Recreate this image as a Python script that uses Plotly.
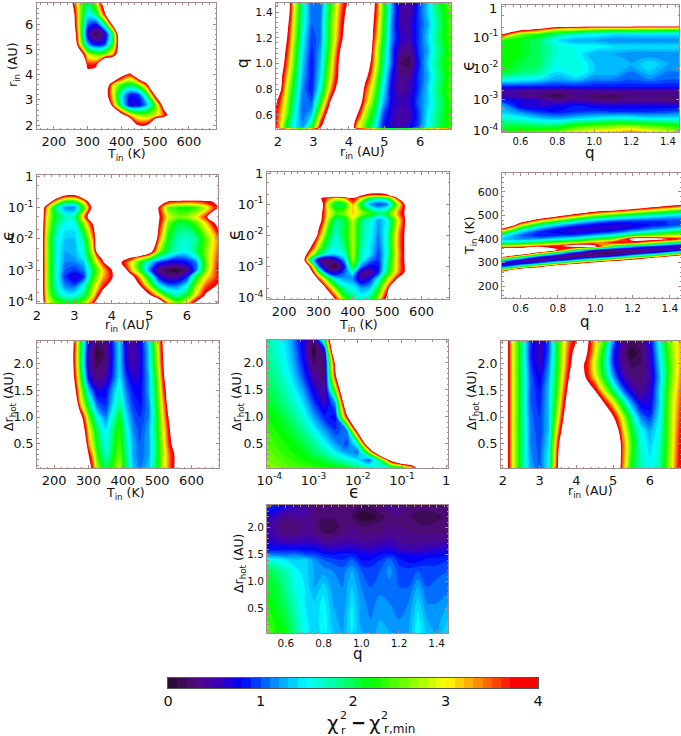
import plotly.graph_objects as go

W, H = 681, 736
ZTOP = 4.1

CMAP_VALUES = [0, 0.1, 0.3, 0.55, 0.8, 1.0, 1.2, 1.5, 1.8, 2.2, 2.6, 3.0, 3.3, 3.6, 3.75, 4.0, 4.04, 4.1]
CMAP_COLORS = ["#220a24", "#350a48", "#520a80", "#3a00b8", "#0000ff", "#0050ff", "#00a0ff", "#00ffff",
               "#00ffa0", "#00ff00", "#80ff00", "#ffff00", "#ffa000", "#ff3000", "#ff0000", "#ff0000",
               "#ffffff", "#ffffff"]
CBAR_LEVELS = [0.05, 0.15, 0.25, 0.35, 0.45, 0.55, 0.65, 0.75, 0.85, 0.95, 1.05, 1.15, 1.25, 1.35, 1.45, 1.55,
               1.65, 1.75, 1.85, 1.95, 2.05, 2.15, 2.25, 2.35, 2.45, 2.55, 2.65, 2.75, 2.85, 2.95, 3.05, 3.15,
               3.25, 3.35, 3.45, 3.55, 3.65, 3.75, 3.85, 3.95]

# ---- panel 1: Tin vs rin
T1 = [225, 250, 275, 300, 325, 350, 375, 400, 425, 450, 475, 500, 525, 550, 575]
R1 = [2.0, 2.4, 2.8, 3.2, 3.6, 4.0, 4.4, 4.8, 5.2, 5.6, 6.0, 6.4, 6.83]
Z1 = [
    [6, 6, 6, 6, 6, 6, 6, 6, 6, 3.8, 3.8, 6, 6, 6, 6],
    [6, 6, 6, 6, 6, 6, 6, 4.3, 3.1, 2.6, 2.5, 2.7, 3.4, 4.5, 6],
    [6, 6, 6, 6, 6, 6, 3.4, 1.7, 0.6, 0.7, 1.2, 2.3, 4.3, 6, 6],
    [6, 6, 6, 6, 6, 4.5, 2.9, 1.5, 0.8, 0.9, 1.9, 4, 6, 6, 6],
    [6, 6, 6, 6, 6, 5, 3, 2.3, 2, 2.4, 3.6, 6, 6, 6, 6],
    [6, 6, 6, 4.3, 4.4, 6, 6, 4.3, 3.6, 5, 6, 6, 6, 6, 6],
    [6, 6, 6, 3.6, 3.7, 6, 6, 6, 6, 6, 6, 6, 6, 6, 6],
    [6, 6, 4.8, 2.8, 2.4, 2.5, 3.2, 5, 6, 6, 6, 6, 6, 6, 6],
    [6, 6, 3.1, 1.2, 0.7, 0.9, 2.2, 5, 6, 6, 6, 6, 6, 6, 6],
    [6, 5.5, 2.8, 0.6, 0.1, 0.5, 2.0, 5.5, 6, 6, 6, 6, 6, 6, 6],
    [6, 5, 2.7, 1.0, 0.8, 1.8, 4.2, 6, 6, 6, 6, 6, 6, 6, 6],
    [6, 4.8, 2.7, 1.5, 1.9, 3.7, 6, 6, 6, 6, 6, 6, 6, 6, 6],
    [6, 4.2, 2.6, 1.9, 2.6, 4.5, 6, 6, 6, 6, 6, 6, 6, 6, 6],
]

# ---- panel 2: rin vs q
R2 = [1.95, 2.2, 2.45, 2.7, 2.95, 3.2, 3.45, 3.7, 3.95, 4.2, 4.45, 4.7, 4.95, 5.2, 5.45, 5.7, 5.95, 6.2, 6.45, 6.87]
Q2 = [0.5, 0.6, 0.7, 0.8, 0.9, 1.0, 1.1, 1.2, 1.3, 1.4, 1.47]
Z2 = [
    [3.9, 2.3, 1.5, 1.2, 2.1, 3.9, 6, 6, 6, 3.2, 2.4, 1.7, 0.9, 0.6, 0.5, 0.7, 1.0, 1.5, 1.9, 2.3],
    [3.7, 2.7, 1.6, 1.0, 1.3, 2.9, 4.5, 6, 6, 4.1, 2.7, 2.0, 1.0, 0.6, 0.4, 0.5, 0.9, 1.4, 1.8, 2.3],
    [4.0, 2.9, 1.8, 1.0, 1.0, 2.1, 3.7, 6, 6, 5, 3.3, 2.3, 1.3, 0.7, 0.5, 0.6, 1.0, 1.3, 1.7, 2.3],
    [5, 3.1, 2.0, 1.1, 0.8, 1.6, 3.0, 4.3, 6, 6, 3.6, 2.6, 1.5, 0.7, 0.35, 0.5, 0.9, 1.3, 1.8, 2.4],
    [5, 3.4, 2.2, 1.2, 0.8, 1.4, 2.7, 3.9, 6, 6, 4.3, 2.9, 1.7, 0.8, 0.3, 0.4, 0.9, 1.2, 1.7, 2.3],
    [6, 3.7, 2.4, 1.3, 0.8, 1.3, 2.5, 3.8, 6, 6, 5, 3.2, 1.9, 1.0, 0.2, 0.1, 0.8, 1.3, 1.8, 2.4],
    [6, 4, 2.5, 1.4, 0.85, 1.2, 2.3, 3.6, 5, 6, 6, 3.3, 2.0, 1.0, 0.4, 0.3, 0.9, 1.2, 1.7, 2.3],
    [6, 4.3, 2.7, 1.5, 0.9, 1.1, 2.2, 3.3, 4.5, 6, 6, 3.6, 2.2, 1.1, 0.6, 0.5, 0.9, 1.3, 1.8, 2.4],
    [6, 4.6, 2.8, 1.6, 1, 1.1, 2.2, 3.2, 4.3, 6, 6, 3.8, 2.3, 1.1, 0.5, 0.5, 0.9, 1.2, 1.7, 2.4],
    [6, 5, 2.9, 1.7, 1, 1.05, 2.1, 3.1, 4.1, 6, 6, 4, 2.4, 1.2, 0.5, 0.4, 0.9, 1.3, 1.8, 2.4],
    [6, 5, 3, 1.7, 1, 1, 2.0, 3, 3.9, 6, 6, 4.1, 2.4, 1.2, 0.5, 0.4, 0.9, 1.3, 1.9, 2.5],
]

# ---- panel 3: q vs log eps
Q3 = [0.5, 0.6, 0.7, 0.8, 0.9, 1.0, 1.1, 1.2, 1.3, 1.4, 1.46]
E3 = [-4.05, -3.8, -3.6, -3.4, -3.2, -3.05, -2.9, -2.72, -2.6, -2.35, -2.1, -1.85, -1.55, -1.3, -1.1, -0.9, -0.75, -0.65, -0.55]
Z3 = [
    [2.2, 2.3, 2.4, 2.5, 2.8, 3.0, 3.1, 3.3, 3.0, 2.8, 2.6],
    [1.9, 1.9, 1.8, 1.8, 2.1, 2.2, 2.3, 2.3, 2.2, 2.1, 2.0],
    [1.6, 1.5, 1.3, 1.2, 1.3, 1.4, 1.5, 1.5, 1.4, 1.4, 1.4],
    [1.3, 1.1, 0.9, 0.8, 0.9, 0.95, 0.9, 0.9, 0.9, 0.95, 1.0],
    [1.2, 0.7, 0.6, 0.7, 0.8, 0.7, 0.7, 0.7, 0.7, 0.7, 0.7],
    [0.9, 0.7, 0.6, 0.4, 0.5, 0.4, 0.3, 0.35, 0.35, 0.3, 0.3],
    [0.5, 0.4, 0.3, 0.1, 0.3, 0.2, 0.15, 0.3, 0.3, 0.3, 0.3],
    [0.5, 0.4, 0.35, 0.3, 0.35, 0.4, 0.4, 0.4, 0.4, 0.4, 0.4],
    [0.8, 0.8, 0.8, 0.8, 0.8, 0.8, 0.8, 0.8, 0.8, 0.8, 0.8],
    [1.6, 1.5, 1.4, 1.2, 1.3, 1.1, 1.1, 1.0, 1.1, 1.0, 1.0],
    [2.1, 1.9, 1.8, 1.4, 1.6, 1.3, 1.3, 1.1, 1.3, 1.1, 1.1],
    [2.2, 2.0, 1.9, 1.5, 1.6, 1.3, 1.3, 1.2, 1.4, 1.2, 1.2],
    [2.2, 2.1, 1.9, 1.6, 1.5, 1.2, 1.2, 1.1, 1.1, 1.1, 1.1],
    [2.2, 2.1, 1.9, 1.6, 1.5, 1.5, 1.4, 1.4, 1.4, 1.4, 1.4],
    [2.2, 2.1, 1.9, 1.4, 1.2, 1.2, 1.1, 1.1, 1.1, 1.1, 1.1],
    [3.9, 2.5, 2.2, 1.9, 1.6, 1.5, 1.4, 1.4, 1.4, 1.4, 1.4],
    [6, 4.2, 3.6, 2.8, 2.7, 2.5, 2.4, 2.4, 2.4, 2.3, 2.3],
    [6, 6, 5, 4.2, 4, 3.9, 3.9, 3.9, 3.8, 3.8, 3.8],
    [6, 6, 6, 6, 6, 6, 6, 6, 6, 6, 6],
]

# ---- panel 4: rin vs log eps
R4 = [2, 2.25, 2.5, 2.75, 3, 3.25, 3.5, 3.75, 4, 4.25, 4.5, 4.75, 5, 5.25, 5.5, 5.75, 6, 6.25, 6.5, 6.83]
E4 = [-4.05, -3.8, -3.5, -3.2, -3.0, -2.75, -2.6, -2.4, -2.0, -1.5, -1.3, -1.0, -0.8, -0.6, -0.45]
Z4 = [
    [6, 3.0, 2.4, 2.2, 2.2, 2.6, 3.6, 6, 6, 6, 6, 6, 6, 5, 3.2, 2.5, 3, 4.1, 6, 6],
    [6, 2.8, 1.9, 1.5, 1.5, 1.9, 2.9, 4.4, 6, 6, 6, 6, 4.0, 2.9, 2.0, 1.7, 2.1, 3, 4, 6],
    [6, 2.7, 1.7, 1.1, 1, 1.5, 2.6, 3.5, 4.4, 6, 6, 3.9, 2.6, 1.5, 1.1, 1.1, 1.5, 2.6, 3.4, 4.0],
    [6, 2.7, 1.6, 0.9, 0.6, 0.9, 2.2, 3.1, 3.7, 6, 4.3, 3, 1.8, 0.7, 0.35, 0.4, 0.8, 2, 2.9, 3.6],
    [6, 2.7, 1.6, 1.0, 0.9, 1.1, 2.0, 3, 3.9, 5, 3.2, 2.2, 1.1, 0.3, 0.1, 0.02, 0.3, 1.1, 2.5, 3.7],
    [6, 2.7, 1.6, 1.1, 1.1, 1.3, 2.4, 3.6, 6, 3.9, 3.0, 2.2, 1.4, 0.9, 0.7, 0.7, 0.8, 1.1, 2.4, 3.6],
    [6, 2.7, 1.6, 1.15, 1.2, 1.5, 2.6, 4.2, 6, 6, 3.9, 3.1, 2.5, 1.7, 1.3, 1.0, 1.1, 1.5, 2.5, 3.5],
    [6, 2.7, 1.6, 1.2, 1.25, 1.6, 2.9, 6, 6, 6, 6, 6, 4.5, 2.6, 1.9, 1.6, 1.5, 1.9, 2.5, 3.4],
    [6, 2.7, 1.6, 1.3, 1.3, 1.8, 3.3, 6, 6, 6, 6, 6, 6, 3.4, 2.1, 1.7, 1.6, 1.8, 2.4, 3.3],
    [6, 2.9, 1.9, 1.5, 1.5, 2.6, 4, 6, 6, 6, 6, 6, 6, 3.9, 2.5, 2.0, 2.0, 2.4, 3.0, 4.2],
    [6, 3.0, 2.0, 1.7, 1.7, 3.2, 5, 6, 6, 6, 6, 6, 6, 4, 2.8, 2.5, 2.6, 2.9, 3.6, 6],
    [6, 3.3, 1.8, 1.1, 1.1, 2.3, 4.3, 6, 6, 6, 6, 6, 6, 3.8, 2.4, 2.2, 2.1, 2.3, 2.7, 3.9],
    [6, 5, 3.1, 2.2, 2.2, 3.1, 5, 6, 6, 6, 6, 6, 6, 5, 3.9, 3.7, 3.6, 3.6, 3.8, 4],
    [6, 6, 5, 4, 3.9, 5, 6, 6, 6, 6, 6, 6, 6, 6, 6, 6, 6, 6, 6, 6],
    [6, 6, 6, 6, 6, 6, 6, 6, 6, 6, 6, 6, 6, 6, 6, 6, 6, 6, 6, 6],
]

# ---- panel 5: Tin vs log eps
T5 = [250, 275, 300, 325, 350, 375, 400, 425, 450, 475, 500, 525, 550, 575]
E5 = [-4.05, -3.7, -3.4, -3.2, -3.0, -2.8, -2.6, -2.4, -2.0, -1.5, -1.3, -1.0, -0.8, -0.7, -0.6, -0.5]
Z5 = [
    [6, 6, 6, 6, 3.7, 2.4, 1.9, 1.6, 1.9, 2.7, 4.2, 6, 6, 6],
    [6, 6, 6, 3.6, 2.4, 1.7, 1.5, 1.2, 1.3, 2.1, 3.4, 6, 6, 6],
    [6, 6, 3.6, 2.3, 1.4, 1.2, 1.1, 0.5, 0.8, 1.5, 2.6, 3.6, 6, 6],
    [6, 4.6, 2.3, 0.9, 0.6, 1.0, 1.5, 0.4, 0.35, 0.9, 2, 3, 3.9, 6],
    [6, 3.7, 1.1, 0.25, 0.02, 0.8, 2.2, 1.1, 0.7, 0.8, 1.8, 2.9, 3.8, 6],
    [5, 1.9, 0.5, 0.2, 0.5, 1.2, 2.6, 1.5, 1.1, 0.9, 1.7, 2.9, 3.9, 6],
    [5, 3.2, 2.0, 1.5, 1.4, 1.6, 2.7, 1.6, 1.4, 0.9, 1.6, 2.8, 3.9, 6],
    [6, 4.0, 2.6, 1.8, 1.5, 1.8, 2.7, 1.7, 1.4, 1.0, 1.6, 2.9, 3.9, 6],
    [6, 6, 3.5, 2.2, 1.6, 2.0, 2.7, 1.8, 1.5, 1.1, 1.6, 2.9, 3.9, 6],
    [6, 6, 4.5, 2.8, 1.8, 2.0, 2.8, 1.9, 1.6, 1.2, 1.5, 2.6, 3.7, 6],
    [6, 6, 4.5, 3.0, 2.4, 2.5, 3.1, 2.6, 2.3, 1.9, 2.1, 3.0, 3.9, 6],
    [6, 6, 5, 2.9, 1.9, 2.0, 3.2, 2.0, 1.2, 0.9, 1.1, 2.3, 3.8, 6],
    [6, 6, 4.1, 3.5, 3.0, 3.2, 3.9, 3.0, 2.0, 1.8, 2.0, 3.4, 6, 6],
    [6, 6, 6, 5, 5, 5, 6, 4, 3.5, 3.5, 3.7, 5, 6, 6],
    [6, 6, 6, 6, 6, 6, 6, 6, 4.3, 4.2, 4.5, 6, 6, 6],
    [6, 6, 6, 6, 6, 6, 6, 6, 6, 6, 6, 6, 6, 6],
]

# ---- panel 6: q vs Tin
Q6 = [0.5, 0.6, 0.7, 0.8, 0.9, 1.0, 1.1, 1.2, 1.3, 1.46]
T6 = [250, 265, 280, 295, 310, 325, 340, 355, 370, 385, 400, 415, 430, 445, 460, 475, 490, 505, 520, 535, 550, 565]
Z6 = [
    [6, 6, 6, 6, 6, 6, 6, 6, 6, 6],
    [3.25, 6, 6, 6, 6, 6, 6, 6, 6, 6],
    [1.04, 2.3, 3.9, 6, 6, 6, 6, 6, 6, 6],
    [0.6, 0.64, 1.3, 2.4, 3.7, 5, 6, 6, 6, 6],
    [1.5, 0.57, 0.3, 0.62, 1.3, 2.1, 3.1, 4.2, 6, 6],
    [3.9, 2.07, 0.85, 0.37, 0.25, 0.5, 1.0, 1.8, 2.6, 5],
    [6, 5.1, 2.9, 1.47, 0.53, 0.12, 0.12, 0.4, 0.85, 2.1],
    [4.8, 4.8, 6, 3.9, 2.0, 0.94, 0.5, 0.3, 0.3, 0.55],
    [2.76, 3.0, 3.4, 3.7, 4.6, 4.1, 2.1, 1.4, 1.0, 0.54],
    [1.67, 1.78, 2.07, 2.4, 2.7, 3.2, 3.8, 3.6, 2.9, 1.6],
    [1.3, 1.13, 1.2, 1.44, 1.67, 2.1, 2.5, 4.2, 4.3, 3.6],
    [1.6, 1.02, 0.83, 0.88, 0.98, 1.27, 1.56, 2.1, 2.5, 2.7],
    [2.45, 1.32, 0.87, 0.7, 0.64, 0.76, 0.94, 1.3, 1.6, 2.2],
    [3.9, 1.98, 1.25, 0.86, 0.64, 0.6, 0.63, 0.83, 1.04, 1.4],
    [6, 3.0, 1.9, 1.35, 0.96, 0.75, 0.64, 0.7, 0.8, 0.98],
    [6, 4.4, 2.9, 2.14, 1.56, 1.18, 0.96, 0.88, 0.89, 0.91],
    [6, 6, 4.3, 3.3, 2.5, 1.9, 1.56, 1.38, 1.25, 1.1],
    [6, 6, 6, 4.7, 3.7, 2.9, 2.5, 2.14, 1.85, 1.5],
    [6, 6, 6, 6, 5.3, 4.2, 3.7, 3.2, 2.73, 2.2],
    [6, 6, 6, 6, 6, 6, 6, 4.6, 3.9, 3.1],
    [6, 6, 6, 6, 6, 6, 6, 6, 6, 4.2],
    [6, 6, 6, 6, 6, 6, 6, 6, 6, 6],
]

# ---- panel 7: Tin vs dr
T7 = [250, 275, 300, 325, 350, 390, 410, 430, 450, 475, 500, 525, 550, 575]
D7 = [0.05, 0.3, 0.5, 0.75, 1, 1.25, 1.5, 1.75, 2, 2.2, 2.42]
Z7 = [
    [6, 6, 4.5, 2.6, 1.9, 2.7, 1.9, 1.3, 1.1, 1.3, 2.1, 3, 3.9, 6],
    [6, 6, 3.9, 2.3, 1.6, 2.5, 1.8, 1.2, 1.0, 1.2, 2.0, 3.0, 3.9, 6],
    [6, 6, 3.3, 2.1, 1.5, 2.4, 1.7, 1.2, 1.0, 1.2, 2.0, 3.1, 4.3, 6],
    [6, 5.0, 3.0, 1.9, 1.4, 2.3, 1.6, 1.1, 0.95, 1.2, 2.1, 3.2, 4.6, 6],
    [6, 4.4, 2.5, 1.5, 1.1, 2.1, 1.4, 1.0, 0.9, 1.1, 2.1, 3.4, 5, 6],
    [6, 3.2, 1.9, 1.0, 0.85, 1.8, 1.2, 0.9, 0.8, 1.1, 2.2, 3.6, 6, 6],
    [5, 2.8, 1.3, 0.65, 0.75, 1.6, 1.05, 0.8, 0.75, 1.2, 2.3, 3.9, 6, 6],
    [4.6, 2.4, 0.7, 0.3, 0.45, 1.4, 0.9, 0.6, 0.7, 1.2, 2.4, 4.2, 6, 6],
    [4.4, 2.2, 0.5, 0.15, 0.3, 1.4, 0.7, 0.45, 0.65, 1.3, 2.6, 4.4, 6, 6],
    [4.4, 2.2, 0.55, 0.03, 0.25, 1.4, 0.65, 0.4, 0.65, 1.3, 2.7, 4.5, 6, 6],
    [4.5, 2.3, 0.7, 0.25, 0.35, 1.4, 0.6, 0.4, 0.7, 1.4, 2.8, 4.6, 6, 6],
]

# ---- panel 8: log eps vs dr
E8 = [-4.05, -3.75, -3.5, -3.25, -3, -2.75, -2.5, -2.25, -2, -1.75, -1.5, -1.25, -1, -0.75, -0.5]
D8 = [0.05, 0.2, 0.35, 0.5, 0.75, 1, 1.25, 1.5, 1.75, 2, 2.2, 2.42]
Z8 = [
    [2.6, 2.5, 2.4, 2.35, 2.3, 2.2, 2.15, 2.1, 1.9, 1.7, 1.5, 1.5, 1.6, 3.0, 6],
    [2.5, 2.4, 2.3, 2.2, 2.1, 2.0, 1.8, 1.6, 1.4, 1.0, 1.9, 4.2, 6, 6, 6],
    [2.45, 2.3, 2.2, 2.1, 1.9, 1.7, 1.4, 1.15, 1.05, 2.6, 5.5, 6, 6, 6, 6],
    [2.4, 2.25, 2.15, 2.0, 1.8, 1.5, 1.15, 0.95, 1.6, 5, 6, 6, 6, 6, 6],
    [2.3, 2.15, 2.0, 1.8, 1.5, 1.15, 0.9, 1.1, 4.3, 6, 6, 6, 6, 6, 6],
    [2.2, 2.05, 1.85, 1.6, 1.2, 0.85, 0.75, 3.7, 6, 6, 6, 6, 6, 6, 6],
    [2.1, 1.9, 1.7, 1.4, 0.95, 0.55, 1.2, 5, 6, 6, 6, 6, 6, 6, 6],
    [2.0, 1.8, 1.55, 1.2, 0.7, 0.35, 2.6, 6, 6, 6, 6, 6, 6, 6, 6],
    [1.9, 1.7, 1.4, 1.0, 0.45, 0.25, 3.8, 6, 6, 6, 6, 6, 6, 6, 6],
    [1.85, 1.6, 1.3, 0.85, 0.2, 0.3, 4.2, 6, 6, 6, 6, 6, 6, 6, 6],
    [1.8, 1.55, 1.25, 0.75, 0.05, 0.5, 5.5, 6, 6, 6, 6, 6, 6, 6, 6],
    [1.75, 1.5, 1.2, 0.7, 0.2, 1.9, 6, 6, 6, 6, 6, 6, 6, 6, 6],
]

# ---- panel 9: rin vs dr
R9 = [2, 2.25, 2.5, 2.75, 3, 3.25, 3.5, 3.75, 4, 4.25, 4.5, 4.75, 5, 5.25, 5.5, 5.75, 6, 6.25, 6.5, 6.85]
D9 = [0.05, 0.5, 0.75, 1, 1.25, 1.5, 1.75, 2, 2.2, 2.42]
Z9 = [
    [5, 3.0, 1.9, 1.2, 1.0, 1.5, 3.9, 6, 6, 6, 6, 6, 6, 3.4, 2.1, 1.7, 1.5, 1.7, 2.5, 3.9],
    [5, 3, 1.9, 1.1, 0.95, 1.4, 3.6, 6, 6, 6, 6, 6, 6, 3.5, 2.3, 1.6, 1.3, 1.6, 2.4, 3.8],
    [5, 3, 1.9, 1.1, 0.9, 1.3, 3.2, 5, 6, 6, 6, 6, 5, 3.2, 2.1, 1.5, 1.2, 1.5, 2.4, 3.7],
    [5, 3, 1.9, 1.05, 0.9, 1.3, 2.8, 4.6, 6, 6, 6, 6, 4, 2.8, 1.8, 1.1, 0.9, 1.4, 2.4, 3.6],
    [5, 3, 1.9, 1.0, 0.85, 1.3, 2.6, 4.2, 6, 6, 6, 4, 3, 2, 1.2, 0.7, 0.7, 1.3, 2.4, 3.5],
    [5, 3, 1.9, 1.0, 0.8, 1.3, 2.4, 3.9, 6, 6, 3.9, 2.8, 1.9, 1.1, 0.6, 0.35, 0.6, 1.3, 2.3, 3.4],
    [5, 3, 1.9, 1, 0.7, 1.2, 2.3, 3.6, 5, 3.9, 3.0, 2.1, 1.2, 0.6, 0.3, 0.25, 0.5, 1.2, 2.2, 3.3],
    [5, 3, 1.9, 0.9, 0.55, 1.1, 2.2, 3.4, 4.5, 3.8, 2.8, 1.9, 0.9, 0.4, 0.15, 0.2, 0.55, 1.3, 2.2, 3.2],
    [5, 3, 1.9, 0.85, 0.5, 1.0, 2.2, 3.3, 4.3, 4.1, 3.0, 2.0, 0.9, 0.35, 0.02, 0.15, 0.6, 1.4, 2.3, 3.2],
    [5, 3, 1.9, 0.9, 0.5, 1.0, 2.2, 3.2, 3.9, 4.3, 3.1, 2.3, 1.1, 0.45, 0.2, 0.3, 0.7, 1.5, 2.4, 3.2],
]

# ---- panel 10: q vs dr
Q10 = [0.5, 0.55, 0.6, 0.65, 0.7, 0.75, 0.8, 0.85, 0.9, 0.95, 1, 1.05, 1.1, 1.15, 1.2, 1.25, 1.3, 1.35, 1.4, 1.46]
D10 = [0.05, 0.3, 0.6, 0.9, 1.2, 1.4, 1.5, 1.6, 1.75, 1.9, 2.05, 2.2, 2.42]
Z10 = [
    [2.4, 2.2, 2.1, 1.8, 1.5, 1.3, 1.45, 1.3, 1.2, 1.4, 1.2, 1.15, 1.25, 1.2, 1.1, 1.2, 1.5, 1.25, 1.2, 1.4],
    [2.3, 2.15, 2.0, 1.75, 1.45, 1.3, 1.5, 1.25, 1.15, 1.45, 1.15, 1.1, 1.2, 1.15, 1.1, 1.15, 1.45, 1.2, 1.15, 1.3],
    [2.2, 2.05, 1.9, 1.65, 1.4, 1.3, 1.45, 1.2, 1.1, 1.4, 1.15, 1.05, 1.15, 1.1, 1.05, 1.1, 1.35, 1.1, 1.1, 1.2],
    [2.1, 2.0, 1.8, 1.55, 1.4, 1.2, 1.35, 1.15, 1.1, 1.3, 1.1, 1, 1.05, 1.05, 1, 1, 1.2, 1, 1.05, 1.05],
    [2.0, 1.85, 1.7, 1.45, 1.35, 1.2, 1.15, 1.1, 1.05, 1.2, 1.0, 0.95, 1.0, 1.15, 0.95, 0.95, 1.0, 0.95, 0.95, 1.0],
    [1.6, 1.5, 1.4, 1.3, 1.35, 1.15, 1.0, 0.95, 0.9, 1.0, 0.8, 0.8, 0.9, 1.05, 0.85, 0.75, 0.75, 0.85, 0.85, 0.9],
    [1.1, 1.1, 1.05, 1.1, 1.0, 0.95, 0.85, 0.8, 0.85, 0.85, 0.75, 0.7, 0.8, 0.85, 0.75, 0.7, 0.7, 0.7, 0.75, 0.8],
    [0.8, 0.8, 0.8, 0.8, 0.75, 0.75, 0.65, 0.6, 0.65, 0.65, 0.6, 0.55, 0.65, 0.65, 0.55, 0.5, 0.5, 0.55, 0.6, 0.65],
    [0.65, 0.55, 0.5, 0.5, 0.55, 0.5, 0.4, 0.4, 0.45, 0.45, 0.4, 0.4, 0.45, 0.5, 0.4, 0.35, 0.35, 0.4, 0.4, 0.45],
    [0.55, 0.4, 0.3, 0.3, 0.4, 0.35, 0.2, 0.2, 0.3, 0.35, 0.3, 0.3, 0.3, 0.35, 0.35, 0.3, 0.3, 0.3, 0.3, 0.3],
    [0.55, 0.35, 0.2, 0.2, 0.35, 0.3, 0.1, 0.1, 0.25, 0.3, 0.2, 0.2, 0.25, 0.3, 0.3, 0.25, 0.25, 0.2, 0.25, 0.25],
    [0.7, 0.5, 0.35, 0.4, 0.4, 0.3, 0.25, 0.25, 0.3, 0.2, 0.02, 0.03, 0.15, 0.25, 0.3, 0.25, 0.1, 0.1, 0.15, 0.25],
    [1.0, 0.85, 0.7, 0.55, 0.45, 0.3, 0.3, 0.3, 0.3, 0.3, 0.2, 0.25, 0.3, 0.35, 0.35, 0.3, 0.3, 0.3, 0.3, 0.3],
]

EPS_TICKS = [1e-4, 1e-3, 1e-2, 1e-1, 1]
EPS_LABELS = ["10<sup>-4</sup>", "10<sup>-3</sup>", "10<sup>-2</sup>", "10<sup>-1</sup>", "1"]
T_TICKS = [200, 300, 400, 500, 600]
R_TICKS = [2, 3, 4, 5, 6]
Q_TICKS = [0.6, 0.8, 1.0, 1.2, 1.4]
D_TICKS = [0.5, 1.0, 1.5, 2.0]

T_R, R_R, Q_R, E_R, D_R = [150, 680], [2, 6.83], [0.5, 1.46], [-4.05, 0.04], [0.05, 2.42]
TITLE_T, TITLE_R, TITLE_Q, TITLE_E, TITLE_D = "T<sub>in</sub> (K)", "r<sub>in</sub> (AU)", "q", "ϵ", "Δr<sub>hot</sub> (AU)"
OFF_CHART = 6  # chi-square level beyond the fitted grid: white


def powers(vals):
    return [10 ** v for v in vals]


PANELS = [
    (T1, R1, Z1, (37, 216, 3, 129), "T", "R", T_R, [1.85, 6.83], 13, 13, (126, 154), (14, 65), TITLE_T, TITLE_R),
    (R2, Q2, Z2, (276, 451, 3, 129), "R", "Q", [1.95, 6.87], [0.49, 1.47], 13, 11, (362, 152), (243, 63), TITLE_R, TITLE_Q),
    (Q3, powers(E3), Z3, (502, 679, 5, 132), "Q", "E", Q_R, E_R, 10, 13, (590, 153), (468, 66), TITLE_Q, TITLE_E),
    (R4, powers(E4), Z4, (37, 218, 175, 303), "R", "E", R_R, E_R, 13, 13, (127, 325), (8, 236), TITLE_R, TITLE_E),
    (T5, powers(E5), Z5, (267, 449, 172, 299), "T", "E", T_R, E_R, 13, 13, (358, 325), (234, 235), TITLE_T, TITLE_E),
    (Q6, T6, Z6, (502, 681, 173, 298), "Q", "T", Q_R, T_R, 10.5, 11, (585, 322), (470, 236), TITLE_Q, TITLE_T),
    (T7, D7, Z7, (37, 219, 341, 468), "T", "D", T_R, D_R, 13, 12.5, (125, 493), (9, 402), TITLE_T, TITLE_D),
    (powers(E8), D8, Z8, (267, 448, 340, 468), "E", "D", E_R, D_R, 13, 12.5, (354, 492), (237, 402), TITLE_E, TITLE_D),
    (R9, D9, Z9, (501, 681, 341, 468), "R", "D", [1.95, 6.85], D_R, 13, 12.5, (590, 491), (472, 400), TITLE_R, TITLE_D),
    (Q10, D10, Z10, (267, 448, 505, 633), "Q", "D", Q_R, D_R, 10.5, 10.5, (358, 654), (239, 564), TITLE_Q, TITLE_D),
]

CBAR_BOX = (168, 538, 678, 688)
FONT = "DejaVu Sans"
FRAME = "#a58c8c"
INK = "#111111"

colorscale = [[v / ZTOP, c] for v, c in zip(CMAP_VALUES, CMAP_COLORS)]


def extend(vals, rng, log):
    """Carry the grid past the axis limits so that its outer seam is clipped away."""
    lo, hi = (10 ** rng[0], 10 ** rng[1]) if log else rng
    out = list(vals)
    pre, post = False, False
    if out[0] > lo:
        out.insert(0, lo * 0.8 if log else lo - 0.02 * (hi - lo))
        pre = True
    if out[-1] < hi:
        out.append(hi * 1.2 if log else hi + 0.02 * (hi - lo))
        post = True
    return out, pre, post


def extend_grid(x, y, z, xr, yr, xlog, ylog):
    nx, xpre, xpost = extend(x, xr, xlog)
    ny, ypre, ypost = extend(y, yr, ylog)
    rows = [([OFF_CHART] if xpre else []) + list(r) + ([OFF_CHART] if xpost else []) for r in z]
    if ypre:
        rows.insert(0, [OFF_CHART] * len(nx))
    if ypost:
        rows.append([OFF_CHART] * len(nx))
    return nx, ny, rows


def axis_style(kind, rng, font_size, anchor, domain):
    ax = dict(domain=domain, anchor=anchor, range=rng, automargin=False, showgrid=False, zeroline=False, showline=True,
              linecolor=FRAME, linewidth=1, mirror="allticks", ticks="inside", ticklen=3, tickcolor=FRAME,
              tickfont=dict(family=FONT, size=font_size, color=INK))
    if kind == "E":
        ax.update(type="log", tickmode="array", tickvals=EPS_TICKS, ticktext=EPS_LABELS,
                  minor=dict(ticks="inside", ticklen=1.5, tickcolor=FRAME, dtick="D2", showgrid=False))
    else:
        ticks = {"T": T_TICKS, "R": R_TICKS, "Q": Q_TICKS, "D": D_TICKS}[kind]
        fmt = {"T": "d", "R": "d", "Q": ".1f", "D": ".1f"}[kind]
        step = {"T": 20, "R": 0.2, "Q": 0.04, "D": 0.1}[kind]
        ax.update(tickmode="array", tickvals=ticks, tickformat=fmt,
                  minor=dict(ticks="inside", ticklen=1.5, tickcolor=FRAME, dtick=step, showgrid=False))
    return ax


def label(text, px, py, size, rot=0):
    return dict(text=text, x=px / W, y=1 - py / H, xref="paper", yref="paper", showarrow=False, textangle=rot,
                xanchor="center", yanchor="middle", font=dict(family=FONT, size=size, color=INK))


fig = go.Figure()
annotations = []
layout_axes = {}
for i, (x, y, z, box, xk, yk, xr, yr, xf, yf, xt_pos, yt_pos, xt, yt) in enumerate(PANELS, start=1):
    left, right, top, bottom = box
    sfx = "" if i == 1 else str(i)
    gx, gy, gz = extend_grid(x, y, z, xr, yr, xk == "E", yk == "E")
    fig.add_trace(go.Contour(
        x=gx, y=gy, z=gz, xaxis=f"x{sfx}", yaxis=f"y{sfx}", showscale=False, colorscale=colorscale,
        zmin=0, zmax=ZTOP, autocontour=False, hoverinfo="skip",
        contours=dict(coloring="fill", start=0, end=4.0, size=0.1, showlines=False),
        line=dict(width=0, smoothing=0.9),
    ))
    layout_axes[f"xaxis{sfx}"] = axis_style(xk, xr, xf, f"y{sfx}", [left / W, right / W])
    layout_axes[f"yaxis{sfx}"] = axis_style(yk, yr, yf, f"x{sfx}", [1 - bottom / H, 1 - top / H])
    for title, pos, rot in ((xt, xt_pos, 0), (yt, yt_pos, -90)):
        size = 17 if title == TITLE_E else (15 if title == TITLE_Q else 12.5)
        annotations.append(label(title, pos[0], pos[1], size, rot))

# the "1" of panel 3 sits at the very top of the page, so it is placed just below its tick
layout_axes["yaxis3"].update(tickvals=EPS_TICKS[:-1], ticktext=EPS_LABELS[:-1])
annotations.append(label("1", 493, 9, 13))

left, right, top, bottom = CBAR_BOX
fig.add_trace(go.Heatmap(x=CBAR_LEVELS, y=[0], z=[CBAR_LEVELS], xaxis="x11", yaxis="y11", showscale=False,
                         colorscale=colorscale, zmin=0, zmax=ZTOP, hoverinfo="skip"))
layout_axes["xaxis11"] = dict(domain=[left / W, right / W], anchor="y11", range=[0, 4], tickmode="array", automargin=False,
                              tickvals=[0, 1, 2, 3, 4], tickformat="d", ticks="", showgrid=False, zeroline=False,
                              showline=True, linecolor="#555555", linewidth=1, mirror=True,
                              tickfont=dict(family=FONT, size=14.5, color=INK))
layout_axes["yaxis11"] = dict(domain=[1 - bottom / H, 1 - top / H], anchor="x11", range=[-0.5, 0.5], showticklabels=False,
                              automargin=False, ticks="", showgrid=False, zeroline=False, showline=True,
                              linecolor="#555555", linewidth=1, mirror=True)
annotations += [
    label("χ", 333, 723, 20), label("2", 343, 715, 11), label("r", 343, 730, 11),
    label("<b>−</b>", 358, 722, 18),
    label("χ", 375, 723, 20), label("2", 384, 715, 11), label("r,min", 399, 729, 12),
]

fig.update_layout(width=W, height=H, margin=dict(l=0, r=0, t=0, b=0, autoexpand=False), paper_bgcolor="white",
                  plot_bgcolor="white", showlegend=False, annotations=annotations, **layout_axes)
fig.write_html("out.html", post_script="document.body.style.margin='0';", config=dict(displayModeBar=False))
